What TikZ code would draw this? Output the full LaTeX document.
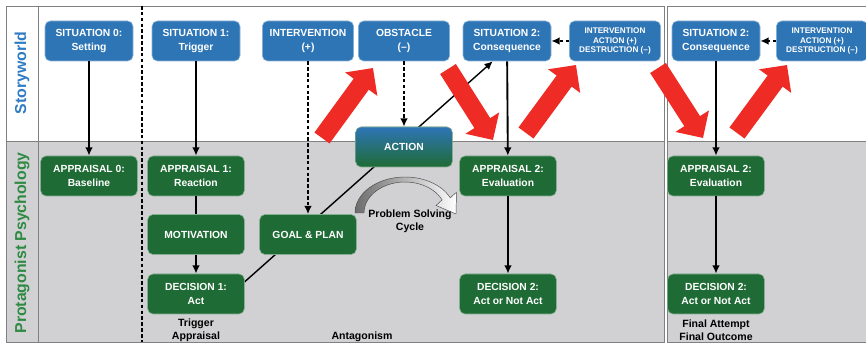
\documentclass[tikz,border=0pt]{standalone}
\usepackage{fontspec}
\setsansfont{Liberation Sans}
\usetikzlibrary{arrows}
\usetikzlibrary{arrows.meta}
\definecolor{boxblue}{HTML}{2E75B6}
\definecolor{boxgreen}{HTML}{1F6B35}
\definecolor{worldblue}{HTML}{2F7BC4}
\definecolor{psygreen}{HTML}{2F8A44}
\definecolor{panelgray}{HTML}{D1D1D3}
\definecolor{arrowred}{HTML}{EE2B24}
\pgfdeclarelayer{background}
\pgfsetlayers{background,main}

\begin{document}
\begin{tikzpicture}[x = 0.3mm, y = -0.3mm, font=\sffamily\bfseries]
	\tikzstyle{sitStyle} = [draw = boxblue!55!white, fill = boxblue, text = white, line width = 0.5pt, rounded corners = 1.6mm, minimum width = 26.4mm, minimum height = 12mm, align = center, font = \sffamily\bfseries\fontsize{8.8}{11.3}\selectfont]
	\tikzstyle{ivStyle} = [sitStyle, minimum width = 27.4mm]
	\tikzstyle{smallStyle} = [ivStyle, font = \sffamily\bfseries\fontsize{7}{8.4}\selectfont]
	\tikzstyle{appStyle} = [sitStyle, draw = boxgreen!55!white, fill = boxgreen, minimum width = 29mm]
	\tikzstyle{actStyle} = [appStyle, top color = boxblue, bottom color = boxgreen]
	\tikzstyle{noteStyle} = [align = center, font = \sffamily\bfseries\fontsize{9}{11}\selectfont]
	\tikzstyle{sideStyle} = [rotate = 90, font = \sffamily\bfseries\fontsize{13.5}{15}\selectfont]
	\tikzstyle{solidArrow} = [line width = 1.6pt, -{Latex[length = 2.5mm, width = 2.3mm]}]
	\tikzstyle{dashArrow} = [line width = 1.6pt, dash pattern = on 3pt off 2pt, -{Latex[length = 2.5mm, width = 2.3mm]}]
	\tikzstyle{thinArrow} = [line width = 1.2pt, -{Latex[length = 2.5mm, width = 2.3mm]}]
	\tikzstyle{bigArrow} = [arrowred, line width = 5.6mm, -{Triangle[length = 6mm, width = 11.6mm]}]
	\useasboundingbox (0,0) rectangle (866,348);
	% panels
	\begin{pgfonlayer}{background}
		\fill[panelgray] (6,141) rectangle (664,342);
		\fill[panelgray] (667,141) rectangle (870,342);
		\draw[gray, line width = 0.8pt] (6,141) -- (664,141) (667,141) -- (870,141);
		\draw[gray, line width = 0.8pt] (6,6) rectangle (664,342);
		\draw[gray, line width = 0.8pt] (667,6) rectangle (870,342);
		\draw[gray, line width = 0.8pt] (38,6) -- (38,342);
		\draw[line width = 1.3pt, dash pattern = on 3pt off 2pt] (142,6) -- (142,342);
	\end{pgfonlayer}
	\node[sideStyle, text = worldblue] (world) at (22,73) {Storyworld};
	\node[sideStyle, text = psygreen] (psych) at (22,243) {Protagonist Psychology};
	% storyworld
	\node[sitStyle] (s0) at (89,41) {SITUATION 0:\\Setting};
	\node[sitStyle] (s1) at (196,41) {SITUATION 1:\\Trigger};
	\node[ivStyle] (iv) at (308,41) {INTERVENTION\\(+)};
	\node[ivStyle] (ob) at (404,41) {OBSTACLE\\(--)};
	\node[sitStyle] (s2) at (507,41) {SITUATION 2:\\Consequence};
	\node[smallStyle] (iv2) at (615,41) {INTERVENTION\\ACTION (+)\\DESTRUCTION (--)};
	\node[sitStyle] (s3) at (716,41) {SITUATION 2:\\Consequence};
	\node[smallStyle] (iv3) at (822,41) {INTERVENTION\\ACTION (+)\\DESTRUCTION (--)};
	% psychology
	\node[appStyle] (a0) at (89,176) {APPRAISAL 0:\\Baseline};
	\node[appStyle] (a1) at (196,176) {APPRAISAL 1:\\Reaction};
	\node[appStyle] (mo) at (196,234.5) {MOTIVATION};
	\node[appStyle] (d1) at (196,294) {DECISION 1:\\Act};
	\node[appStyle] (gp) at (308,234.5) {GOAL \& PLAN};
	\node[actStyle] (ac) at (404,147) {ACTION};
	\node[appStyle] (a2) at (508,176) {APPRAISAL 2:\\Evaluation};
	\node[appStyle] (d2) at (508,294) {DECISION 2:\\Act or Not Act};
	\node[appStyle] (a3) at (716,176) {APPRAISAL 2:\\Evaluation};
	\node[appStyle] (d3) at (716,294) {DECISION 2:\\Act or Not Act};
	\node[noteStyle] (trig) at (196,330) {Trigger\\Appraisal};
	\node[noteStyle] (anta) at (362,337) {Antagonism};
	\node[noteStyle] (fin) at (716,330) {Final Attempt\\Final Outcome};
	% problem solving cycle
	\shade[left color = gray!85!black, right color = white, draw = gray!60!black, line width = 0.4pt]
		(355,213) arc[start angle = 180, end angle = 335, x radius = 50, y radius = 36]
		-- (456.5,192.2) -- (456,214) -- (436.0,205.5) -- (442.1,199.9)
		arc[start angle = 335, end angle = 180, x radius = 41, y radius = 31] -- cycle;
	\node[noteStyle, align = center] (cyc) at (410,221) {Problem Solving\\Cycle};
	% connectors
	\draw[solidArrow] (s0) -- (a0);
	\draw[solidArrow] (s1) -- (a1);
	\draw[line width = 1.6pt] (a1) -- (mo);
	\draw[solidArrow] (mo) -- (d1);
	\draw[dashArrow] (iv) -- (gp);
	\draw[dashArrow] (ob) -- (ac);
	\draw[solidArrow] (s2) -- (a2);
	\draw[solidArrow] (a2) -- (d2);
	\draw[dashArrow] (iv2) -- (s2);
	\draw[solidArrow] (s3) -- (a3);
	\draw[solidArrow] (a3) -- (d3);
	\draw[dashArrow] (iv3) -- (s3);
	\begin{pgfonlayer}{background}
		\draw[thinArrow] (d1.14) -- (s2.235);
	\end{pgfonlayer}
	% red arrows
	\coordinate (r1a) at (322,138);
	\coordinate (r1b) at (373,68);
	\coordinate (r2a) at (448,69);
	\coordinate (r2b) at (493,140);
	\coordinate (r3a) at (526,133);
	\coordinate (r3b) at (576,65);
	\coordinate (r4a) at (658,68);
	\coordinate (r4b) at (703,138);
	\coordinate (r5a) at (737,133);
	\coordinate (r5b) at (787,65);
	\draw[bigArrow] (r1a) -- (r1b);
	\draw[bigArrow] (r2a) -- (r2b);
	\draw[bigArrow] (r3a) -- (r3b);
	\draw[bigArrow] (r4a) -- (r4b);
	\draw[bigArrow] (r5a) -- (r5b);
\end{tikzpicture}
\end{document}
